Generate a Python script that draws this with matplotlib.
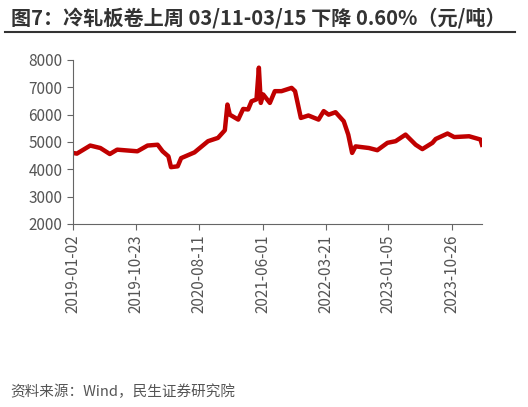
import matplotlib
matplotlib.use("Agg")
import matplotlib.pyplot as plt
import pandas as pd
from matplotlib.lines import Line2D

plt.rcParams['font.family'] = ['Noto Sans CJK SC', 'DejaVu Sans']

dates = ["2019-01-02","2019-01-20","2019-03-23","2019-05-09","2019-06-22","2019-07-26","2019-10-28",
"2019-12-14","2020-01-30","2020-02-22","2020-03-20","2020-04-01","2020-05-02","2020-05-18","2020-07-19",
"2020-09-20","2020-11-05","2020-12-07","2020-12-19","2020-12-30","2021-02-07","2021-03-02","2021-03-25",
"2021-04-10","2021-05-03","2021-05-14","2021-05-23","2021-06-03","2021-07-04","2021-07-27","2021-08-27",
"2021-10-13","2021-10-29","2021-11-25","2021-12-30","2022-02-15","2022-03-11","2022-04-03","2022-05-05",
"2022-06-12","2022-07-03","2022-07-21","2022-08-06","2022-10-07","2022-11-15","2023-01-01","2023-02-08",
"2023-03-26","2023-05-12","2023-06-12","2023-07-29","2023-08-13","2023-10-07","2023-11-07","2024-01-15",
"2024-03-08","2024-03-15"]
values = [4600,4575,4870,4780,4560,4720,4660,4870,4900,4660,4475,4080,4110,4410,4620,5030,5150,5430,6370,
6000,5820,6210,6190,6490,6560,7720,6430,6740,6430,6860,6860,6980,6860,5880,5970,5820,6130,6000,6090,5760,
5270,4600,4840,4780,4700,4970,5030,5270,4900,4740,4970,5110,5310,5180,5210,5090,4900]
tick_labels = ["2019-01-02","2019-10-23","2020-08-11","2021-06-01","2022-03-21","2023-01-05","2023-10-26"]

x = pd.to_datetime(dates)
fig = plt.figure(figsize=(5.28, 4.07), dpi=100)
ax = fig.add_axes([73/528, 1-224/407, (482-73)/528, (224-60)/407])
ax.plot(x, values, color='#C00000', lw=3.2, solid_joinstyle='round')
ax.set_ylim(2000, 8000)
ax.set_yticks(range(2000, 8001, 1000))
ax.set_xlim(x[0], x[-1])
ax.set_xticks(pd.to_datetime(tick_labels))
ax.set_xticklabels(tick_labels, rotation=90)
for s in ['top', 'right']:
    ax.spines[s].set_visible(False)
for s in ['left', 'bottom']:
    ax.spines[s].set_color('#666666')
ax.tick_params(colors='#666666', labelcolor='#555555', labelsize=11, length=4)

fig.text(0.02, 0.955, "图7：冷轧板卷上周 03/11-03/15 下降 0.60%（元/吨）", fontsize=14.5,
         fontweight='bold', color='#333333', va='center')
fig.add_artist(Line2D([0.01, 0.975], [0.922, 0.922], color='#333333', lw=1.5))
fig.text(0.02, 0.037, "资料来源：Wind，民生证券研究院", fontsize=10.5, color='#555555', va='center')
fig.savefig("out.png", dpi=100)
